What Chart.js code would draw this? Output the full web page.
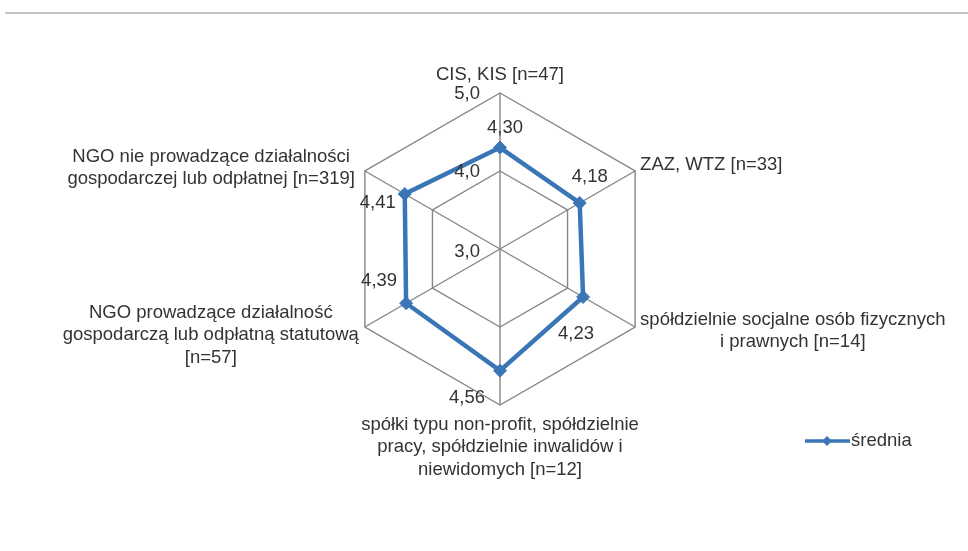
<!DOCTYPE html>
<html>
<head>
<meta charset="utf-8">
<script src="https://cdn.jsdelivr.net/npm/chart.js@4/dist/chart.umd.min.js"></script>
<style>
  html, body { margin: 0; padding: 0; background: #fff; }
  #wrap { position: relative; width: 968px; height: 551px; }
</style>
</head>
<body>
<div id="wrap"><canvas id="radarChart"></canvas></div>
<script>
// categories (one per axis, clockwise from top)
const categories = [
  ["CIS, KIS [n=47]"],
  ["ZAZ, WTZ [n=33]"],
  ["spółdzielnie socjalne osób fizycznych", "i prawnych [n=14]"],
  ["spółki typu non-profit, spółdzielnie", "pracy, spółdzielnie inwalidów i", "niewidomych [n=12]"],
  ["NGO prowadzące działalność", "gospodarczą lub odpłatną statutową", "[n=57]"],
  ["NGO nie prowadzące działalności", "gospodarczej lub odpłatnej [n=319]"]
];
const seriesName = "średnia";
const averages = [4.30, 4.18, 4.23, 4.56, 4.39, 4.41];
const tickValues = [3, 4, 5];
const tickLabels = ["3,0", "4,0", "5,0"];

const FONT = "18.5px 'Liberation Sans', Arial, sans-serif";
const TEXT = "#333333";
const BLUE = "#3a76b6";

// where each category label sits, relative to the outer vertex
const labelPlace = [
  { dx: 0, dy: -18, align: "center" },
  { dx: 5, dy: -6, align: "left" },
  { dx: 5, dy: 4, align: "left" },
  { dx: 0, dy: 42, align: "center" },
  { dx: -6, dy: 8, align: "right" },
  { dx: -10, dy: -3, align: "right" }
];
// value label offsets from each point
const valueOffset = [[5, -20], [10, -26], [-7, 37], [-33, 27], [-27, -22], [-27, 9]];

const overlay = {
  id: "overlay",
  afterDraw(chart) {
    const ctx = chart.ctx;
    const scale = chart.scales.r;
    ctx.save();

    // thin rule at the top
    ctx.fillStyle = "#c4c4c4";
    ctx.fillRect(5, 12, 963, 2);

    ctx.font = FONT;
    ctx.fillStyle = TEXT;
    ctx.textBaseline = "middle";

    // tick labels
    ctx.textAlign = "right";
    tickValues.forEach((v, i) => {
      const p = scale.getPointPositionForValue(0, v);
      ctx.fillText(tickLabels[i], p.x - 20, p.y + (i === 0 ? 3 : 1));
    });

    // category labels
    const lh = 22.5;
    categories.forEach((lines, i) => {
      const p = scale.getPointPositionForValue(i, scale.max);
      const pl = labelPlace[i];
      const widths = lines.map((l) => ctx.measureText(l).width);
      const w = Math.max(...widths);
      let cx;
      if (pl.align === "left") cx = p.x + pl.dx + w / 2;
      else if (pl.align === "right") cx = p.x + pl.dx - w / 2;
      else cx = p.x + pl.dx;
      const cy = p.y + pl.dy;
      const top = cy - (lines.length - 1) * lh / 2;
      ctx.textAlign = "center";
      lines.forEach((l, k) => ctx.fillText(l, cx, top + k * lh));
    });

    // value labels
    ctx.textAlign = "center";
    const meta = chart.getDatasetMeta(0);
    meta.data.forEach((pt, i) => {
      const txt = averages[i].toFixed(2).replace(".", ",");
      ctx.fillText(txt, pt.x + valueOffset[i][0], pt.y + valueOffset[i][1]);
    });

    // legend
    const ly = 441;
    ctx.strokeStyle = BLUE;
    ctx.lineWidth = 3.5;
    ctx.beginPath();
    ctx.moveTo(805, ly);
    ctx.lineTo(850, ly);
    ctx.stroke();
    ctx.fillStyle = BLUE;
    ctx.beginPath();
    ctx.moveTo(827, ly - 5);
    ctx.lineTo(832, ly);
    ctx.lineTo(827, ly + 5);
    ctx.lineTo(822, ly);
    ctx.closePath();
    ctx.fill();
    ctx.fillStyle = TEXT;
    ctx.textAlign = "left";
    ctx.fillText(seriesName, 851, ly);

    ctx.restore();
  }
};

new Chart(document.getElementById("radarChart"), {
  type: "radar",
  data: {
    labels: categories,
    datasets: [
      {
        label: seriesName,
        data: averages,
        borderColor: BLUE,
        backgroundColor: "rgba(0,0,0,0)",
        borderWidth: 4.5,
        fill: false,
        pointStyle: "rectRot",
        pointRadius: 6.5,
        pointHoverRadius: 6.5,
        pointBackgroundColor: BLUE,
        pointBorderColor: BLUE,
        pointBorderWidth: 1,
      },
    ],
  },
  options: {
    responsive: true,
    maintainAspectRatio: false,
    animation: false,
    layout: {
      padding: { left: 344, right: 312, top: 93, bottom: 146 },
    },
    plugins: {
      legend: { display: false },
      tooltip: { enabled: false },
    },
    scales: {
      r: {
        min: 3,
        max: 5,
        ticks: { stepSize: 1, display: false },
        pointLabels: { display: false },
        grid: { color: "#858585", lineWidth: 1.4 },
        angleLines: { color: "#858585", lineWidth: 1.4 },
      },
    },
  },
  plugins: [overlay],
});
</script>
</body>
</html>
